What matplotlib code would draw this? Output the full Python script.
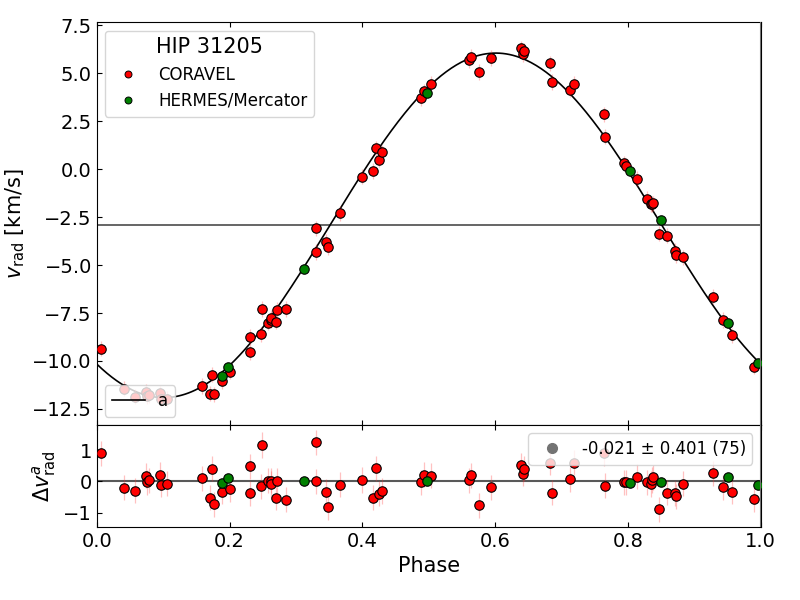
import matplotlib
matplotlib.use("Agg")
import matplotlib.pyplot as plt
from matplotlib.lines import Line2D
import numpy as np

plt.rcParams.update({
    "font.family": "DejaVu Sans",
    "xtick.direction": "in",
    "ytick.direction": "in",
    "xtick.top": True,
    "xtick.labelsize": 14,
    "ytick.labelsize": 14,
})

STAR = "HIP 31205"

# CORAVEL: phase, radial velocity [km/s], residual [km/s]
cor_phase = [0.006, 0.041, 0.058, 0.074, 0.075, 0.079, 0.095, 0.097, 0.106,
             0.158, 0.170, 0.173, 0.177, 0.188, 0.201, 0.230, 0.231, 0.248,
             0.249, 0.258, 0.262, 0.263, 0.270, 0.272, 0.285, 0.330, 0.330,
             0.345, 0.348, 0.367, 0.399, 0.416, 0.420, 0.425, 0.430, 0.489,
             0.493, 0.504, 0.561, 0.563, 0.576, 0.594, 0.639, 0.642, 0.644,
             0.683, 0.685, 0.712, 0.718, 0.764, 0.766, 0.794, 0.797, 0.814,
             0.829, 0.835, 0.836, 0.838, 0.847, 0.858, 0.871, 0.873, 0.883,
             0.928, 0.943, 0.957, 0.990]
cor_vrad = [-9.36, -11.45, -11.86, -11.61, -11.82, -11.78, -11.68, -12.00, -11.98,
            -11.30, -11.70, -10.71, -11.74, -11.04, -10.56, -8.75, -9.55, -8.61,
            -7.29, -8.00, -7.86, -7.74, -7.95, -7.33, -7.29, -3.09, -4.32,
            -3.79, -4.06, -2.31, -0.40, -0.10, 1.09, 0.50, 0.87, 3.70,
            4.06, 4.44, 5.68, 5.87, 5.07, 5.80, 6.29, 6.01, 6.15,
            5.52, 4.55, 4.15, 4.44, 2.85, 1.70, 0.31, 0.16, -0.50,
            -1.56, -1.82, -1.82, -1.78, -3.37, -3.47, -4.25, -4.48, -4.60,
            -6.65, -7.86, -8.66, -10.29]
cor_res = [0.89, -0.20, -0.29, 0.18, -0.03, 0.04, 0.22, -0.10, -0.07,
           0.10, -0.52, 0.41, -0.73, -0.33, -0.24, 0.48, -0.38, -0.15,
           1.16, 0.02, 0.02, -0.08, -0.52, 0.02, -0.58, 1.24, 0.00,
           -0.32, -0.81, -0.10, 0.05, -0.52, 0.42, -0.39, -0.30, -0.02,
           0.21, 0.18, 0.04, 0.20, -0.75, -0.18, 0.51, 0.25, 0.41,
           0.60, -0.36, 0.07, 0.60, 0.90, -0.13, -0.03, -0.03, 0.15,
           -0.03, -0.08, 0.05, 0.14, -0.88, -0.35, -0.38, -0.47, -0.07,
           0.26, -0.19, -0.32, -0.56]
cor_err = [0.40] * len(cor_phase)

# HERMES/Mercator
her_phase = [0.188, 0.197, 0.312, 0.497, 0.803, 0.849, 0.951, 0.996]
her_vrad = [-10.76, -10.33, -5.22, 3.99, -0.10, -2.66, -8.00, -10.09]
her_res = [-0.06, 0.10, 0.03, 0.00, -0.05, -0.03, 0.14, -0.12]
her_err = [0.05] * len(her_phase)

# orbit solution a (near-circular)
GAMMA = -2.93
K_AMP = 8.98
PHASE_MAX = 0.601
RES_LABEL = "-0.021 ± 0.401 (75)"

fig = plt.figure(figsize=(8, 6), dpi=100)
gs = fig.add_gridspec(2, 1, height_ratios=[3.95, 1], hspace=0,
                      left=0.121, right=0.951, top=0.963, bottom=0.122)
ax = fig.add_subplot(gs[0])
axr = fig.add_subplot(gs[1], sharex=ax)

ecol = (1.0, 0.2, 0.2, 0.3)
mk = dict(fmt="o", ms=6.8, mec="k", mew=0.8, ecolor=ecol, elinewidth=0.9, capsize=0)

ph = np.linspace(0, 1, 400)
model = GAMMA + K_AMP * np.cos(2 * np.pi * (ph - PHASE_MAX))
line_a, = ax.plot(ph, model, color="k", lw=1.2, zorder=2)
ax.axhline(GAMMA, color="0.35", lw=1.3, zorder=1)

ax.errorbar(cor_phase, cor_vrad, yerr=cor_err, mfc="red", zorder=3, **mk)
ax.errorbar(her_phase, her_vrad, yerr=her_err, mfc="green", zorder=3, **mk)

axr.axhline(0, color="0.35", lw=1.5, zorder=1)
axr.errorbar(cor_phase, cor_res, yerr=cor_err, mfc="red", zorder=3, **mk)
axr.errorbar(her_phase, her_res, yerr=her_err, mfc="green", zorder=3, **mk)

for a in (ax, axr):
    a.axvline(1.0, color="0.45", lw=1.5, zorder=4)

ax.set_xlim(0, 1)
ax.set_ylim(-13.33, 7.66)
axr.set_ylim(-1.44, 1.80)
ax.set_yticks([-12.5, -10.0, -7.5, -5.0, -2.5, 0.0, 2.5, 5.0, 7.5])
axr.set_yticks([-1, 0, 1])
ax.tick_params(labelbottom=False)

ax.set_ylabel(r"$v_{\rm rad}$ [km/s]", fontsize=15)
axr.set_ylabel(r"$\Delta v^{a}_{\rm rad}$", fontsize=15)
axr.set_xlabel("Phase", fontsize=15)

src = [Line2D([], [], marker="o", ls="none", ms=5, mfc="red", mec="k", mew=0.7),
       Line2D([], [], marker="o", ls="none", ms=5, mfc="green", mec="k", mew=0.7)]
leg1 = ax.legend(src, ["CORAVEL", "HERMES/Mercator"], loc="upper left",
                 title=STAR, title_fontsize=15, fontsize=12)
ax.add_artist(leg1)
ax.legend([line_a], ["a"], loc="lower left", fontsize=12)

grey = Line2D([], [], marker="o", ls="none", ms=7, color="0.45")
axr.legend([grey], [RES_LABEL], loc="upper right", fontsize=12)

fig.savefig("out.png", dpi=100)
